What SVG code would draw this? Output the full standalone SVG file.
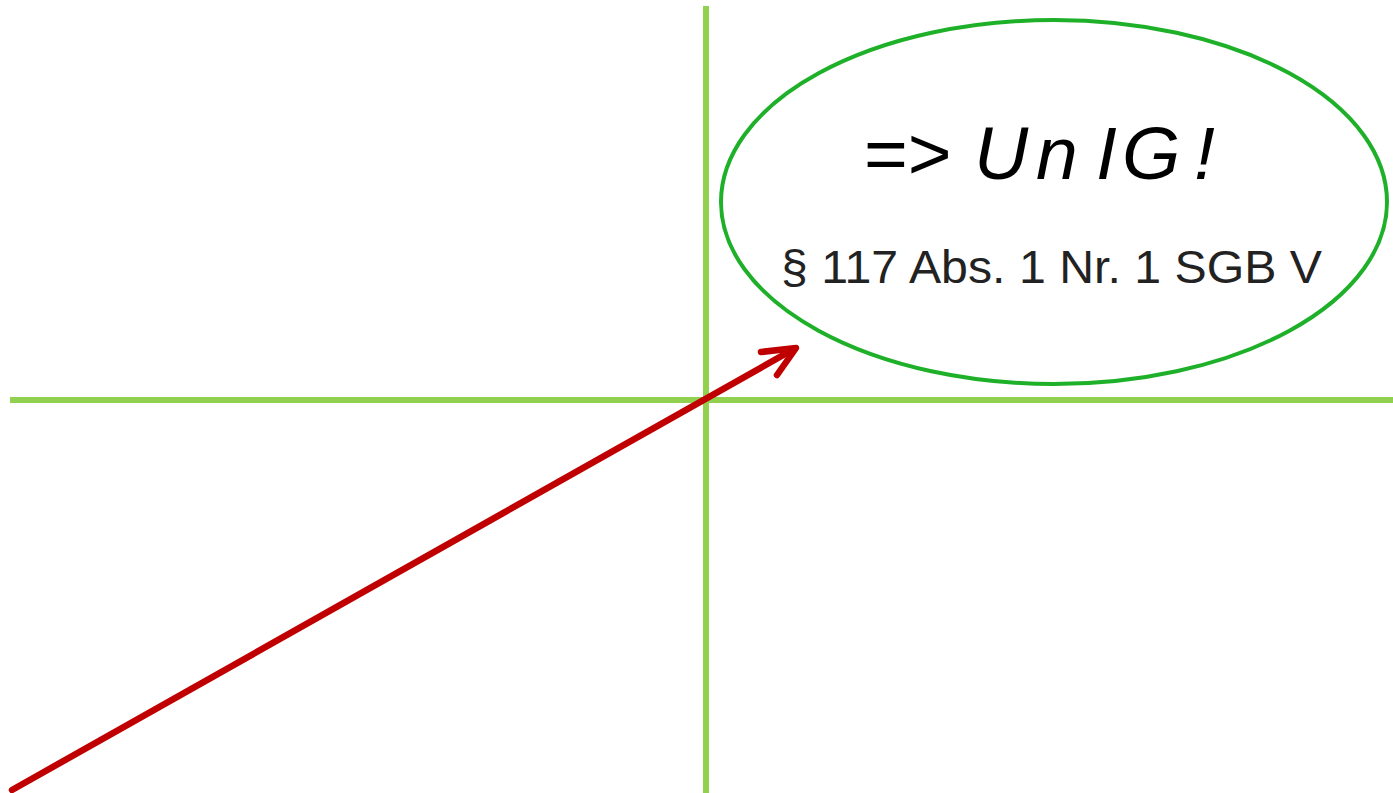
<svg xmlns="http://www.w3.org/2000/svg" width="1393" height="793" viewBox="0 0 1393 793">
<style>
.axis{stroke:#92d050;stroke-width:6;fill:none}
.arrow{stroke:#c00000;stroke-width:6.5;fill:none;stroke-linecap:round;stroke-linejoin:round}
.t1{font-family:"Liberation Sans",Arial,sans-serif;font-size:75px;fill:#000}
.t2{font-family:"Liberation Sans",Arial,sans-serif;font-size:47px;fill:#222}
</style>
<rect width="1393" height="793" fill="#fff"/>
<g id="axes">
<line class="axis" x1="706" y1="6" x2="706" y2="793"/>
<line class="axis" x1="10" y1="400" x2="1393" y2="400"/>
</g>
<g id="result">
<ellipse cx="1054" cy="202" rx="333" ry="182" fill="none" stroke="#1fb02a" stroke-width="4"/>
<text class="t1" y="179"><tspan x="864">=&gt;</tspan><tspan font-style="italic" x="974">U</tspan><tspan font-style="italic" x="1036">n</tspan><tspan font-style="italic" x="1096">I</tspan><tspan font-style="italic" x="1122">G</tspan><tspan font-style="italic" x="1194">!</tspan></text>
<text class="t2" x="781" y="283" textLength="541" lengthAdjust="spacingAndGlyphs">§ 117 Abs. 1 Nr. 1 SGB V</text>
</g>
<g id="connectors">
<line class="arrow" x1="12" y1="790" x2="794" y2="349"/>
<polyline class="arrow" points="761,352 796,348 777,375"/>
</g>
</svg>
